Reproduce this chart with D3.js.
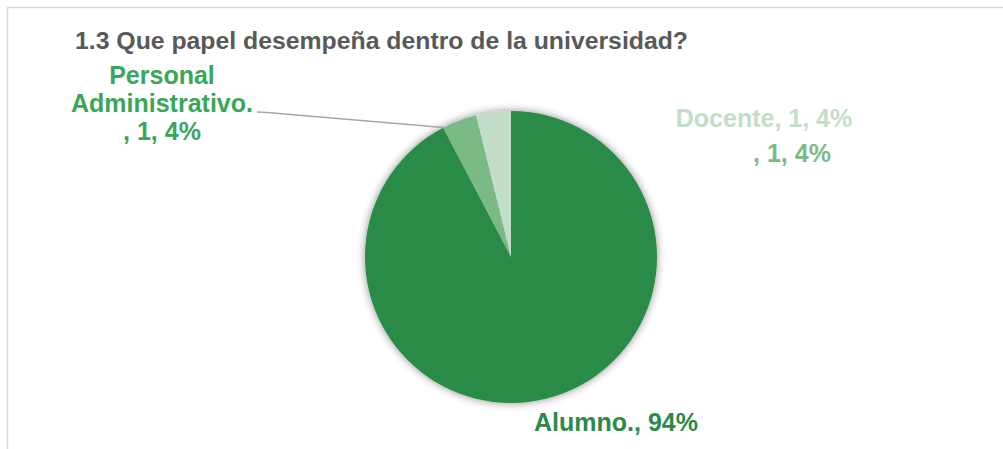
<!DOCTYPE html>
<html>
<head>
<meta charset="utf-8">
<script src="https://cdn.jsdelivr.net/npm/d3@7"></script>
<style>
  body { margin: 0; background: #fff; }
  svg text { font-family: Arial, "Liberation Sans", sans-serif; font-weight: bold; }
</style>
</head>
<body>
<div class="chart"></div>
<script>
// DATA ---------------------------------------------------------------
const categories = ['Alumno.', 'Personal Administrativo.', 'Docente'];
const counts = [24, 1, 1];
const percentLabels = ['94%', '4%', '4%'];
const sliceColors = ['#2b8a46', '#7aba85', '#c2dec8'];

// CHART INIT ---------------------------------------------------------
const width = 1003;
const height = 449;

const svg = d3.select('.chart')
    .append('svg')
    .attr('width', width)
    .attr('height', height);

// shadow round the pie
const defs = svg.append('defs');
defs.append('filter')
    .attr('id', 'soft')
    .attr('x', '-20%').attr('y', '-20%')
    .attr('width', '140%').attr('height', '140%')
    .append('feDropShadow')
    .attr('dx', 0)
    .attr('dy', 0)
    .attr('stdDeviation', 4)
    .attr('flood-color', '#000')
    .attr('flood-opacity', 0.45);

// chart area frame (cut off at right and bottom)
svg.append('path')
    .attr('d', 'M7.5,' + height + 'V7.5H' + width)
    .attr('fill', 'none')
    .attr('stroke', '#d9d9d9')
    .attr('stroke-width', 1.5);

svg.append('text')
    .attr('x', 75)
    .attr('y', 49)
    .attr('font-size', 23)
    .attr('fill', '#595959')
    .attr('textLength', 613)
    .attr('lengthAdjust', 'spacingAndGlyphs')
    .text('1.3 Que papel desempeña dentro de la universidad?');

// PIE ----------------------------------------------------------------
const cx = 511, cy = 257, radius = 146;

const data = categories.map((c, i) => ({name: c, value: counts[i], color: sliceColors[i]}));

const pie = d3.pie()
    .sort(null)
    .value(d => d.value);

const arc = d3.arc()
    .innerRadius(0)
    .outerRadius(radius);

const arcs = pie(data);

const g = svg.append('g')
    .attr('transform', 'translate(' + cx + ',' + cy + ')');

g.append('g')
    .attr('filter', 'url(#soft)')
    .selectAll('path')
    .data(arcs)
    .enter()
    .append('path')
    .attr('d', arc)
    .attr('fill', d => d.data.color);

// LABELS -------------------------------------------------------------

// leader line for Personal Administrativo., ends on the slice's outer edge
const a = arcs[1].startAngle + 0.005;
const tip = [cx + radius * Math.sin(a), cy - radius * Math.cos(a)];
svg.append('polyline')
    .attr('points', [[257, 112], [267, 112.5], tip].map(p => p.join(',')).join(' '))
    .attr('fill', 'none')
    .attr('stroke', '#a6a6a6')
    .attr('stroke-width', 1.5);

// Personal Administrativo. label (three lines)
const pLines = ['Personal', 'Administrativo.', ', ' + counts[1] + ', ' + percentLabels[1]];
svg.append('text')
    .attr('text-anchor', 'middle')
    .attr('font-size', 25)
    .attr('fill', '#3aa658')
    .selectAll('tspan')
    .data(pLines)
    .enter()
    .append('tspan')
    .attr('x', 162)
    .attr('y', (d, i) => 84 + i * 28)
    .text(d => d);

// Docente label
svg.append('text')
    .attr('x', 764)
    .attr('y', 127)
    .attr('text-anchor', 'middle')
    .attr('font-size', 25)
    .attr('fill', sliceColors[2])
    .text(categories[2] + ', ' + counts[2] + ', ' + percentLabels[2]);

// stray value label
svg.append('text')
    .attr('x', 792)
    .attr('y', 162)
    .attr('text-anchor', 'middle')
    .attr('font-size', 25)
    .attr('fill', sliceColors[1])
    .text(', ' + counts[1] + ', ' + percentLabels[1]);

// Alumno label
svg.append('text')
    .attr('x', 616)
    .attr('y', 431)
    .attr('text-anchor', 'middle')
    .attr('font-size', 25)
    .attr('fill', sliceColors[0])
    .text(categories[0] + ', ' + percentLabels[0]);
</script>
</body>
</html>
